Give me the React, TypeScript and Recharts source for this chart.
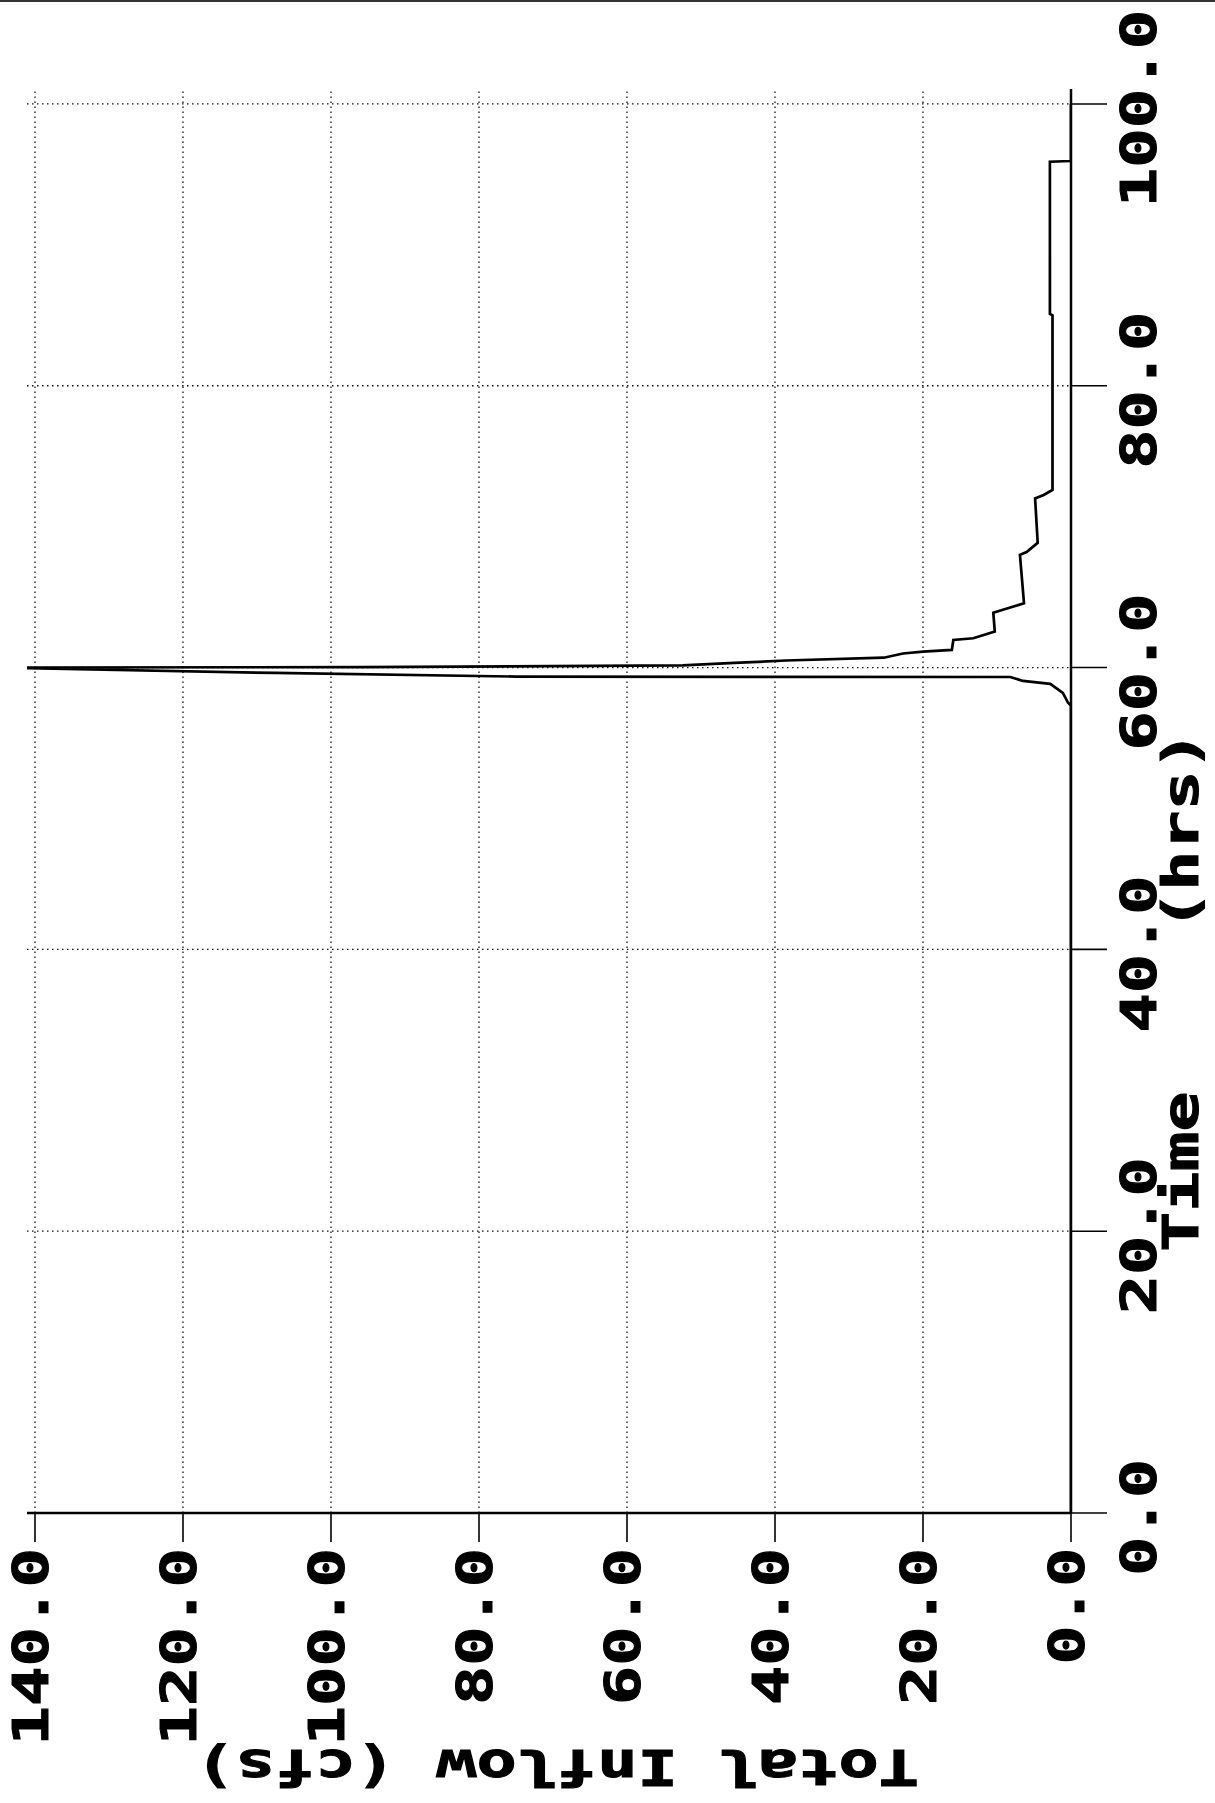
import React from "react";
import { LineChart, Line, XAxis, YAxis, CartesianGrid } from "recharts";

// Hydrograph: time (hrs) vs total inflow (cfs)
const timeHrs = [
  0, 57.3, 57.5, 58.2, 58.84, 59.05, 59.33, 59.36, 59.62, 59.95, 60.0,
  60.03, 60.16, 60.33, 60.5, 60.7, 61.0, 61.13, 61.25, 61.96, 62.08, 62.55,
  63.9, 64.56, 68.0, 68.2, 68.85, 72.0, 72.25, 72.6, 85.0, 85.1, 95.9, 95.95, 100.0,
];
const inflowCfs = [
  0, 0, 0.4, 1.1, 2.8, 6.5, 8.2, 75, 107.6, 141, 150,
  96, 52.5, 45.5, 38.5, 25.3, 22.7, 20, 16.1, 15.9, 13.2, 10.3,
  10.5, 6.35, 6.9, 6.0, 4.5, 4.85, 3.7, 2.5, 2.5, 2.85, 2.85, 0, 0,
];

const timeTicks = [0, 20, 40, 60, 80, 100];
const inflowTicks = [0, 20, 40, 60, 80, 100, 120, 140];
const timeTitle = "Time    (hrs)";
const inflowTitle = "Total Inflow (cfs)";

const data = timeHrs.map((t, i) => ({ t, q: inflowCfs[i] }));

const FONT = '"DejaVu Sans Mono", "Liberation Mono", monospace';
const FS = 49;
const ADV = 40.5;
const textLen = (s: string) => ADV * s.length - 5;

const txtStyle: React.CSSProperties = { whiteSpace: "pre" };

const TimeTick = (props: any) => {
  const { x, y, payload } = props;
  const s = Number(payload.value).toFixed(1);
  const L = textLen(s);
  return (
    <text
      x={x - 4.5 - L / 2}
      y={y + 49}
      textLength={L}
      lengthAdjust="spacingAndGlyphs"
      fontFamily={FONT}
      fontSize={FS}
      fontWeight="bold"
      fill="#000"
      stroke="#000"
      strokeWidth={1}
    >
      {s}
    </text>
  );
};

const InflowTick = (props: any) => {
  const { x, y, payload } = props;
  const s = Number(payload.value).toFixed(1);
  const L = textLen(s);
  return (
    <text
      x={x - 6 - L}
      y={y + 13}
      textLength={L}
      lengthAdjust="spacingAndGlyphs"
      fontFamily={FONT}
      fontSize={FS}
      fontWeight="bold"
      fill="#000"
      stroke="#000"
      strokeWidth={1}
    >
      {s}
    </text>
  );
};

const TimeTitle = () => {
  const L = textLen(timeTitle);
  return (
    <text
      x={812 - L / 2}
      y={1198}
      textLength={L}
      lengthAdjust="spacingAndGlyphs"
      fontFamily={FONT}
      fontSize={FS}
      fontWeight="bold"
      fill="#000"
      stroke="#000"
      strokeWidth={1}
      style={txtStyle}
      xmlSpace="preserve"
    >
      {timeTitle}
    </text>
  );
};

const InflowTitle = () => {
  const L = textLen(inflowTitle);
  const cx = 53;
  const cy = 557;
  return (
    <text
      x={cx - L / 2}
      y={cy}
      transform={`rotate(-90, ${cx}, ${cy})`}
      textLength={L}
      lengthAdjust="spacingAndGlyphs"
      fontFamily={FONT}
      fontSize={FS}
      fontWeight="bold"
      fill="#000"
      stroke="#000"
      strokeWidth={1}
      style={txtStyle}
      xmlSpace="preserve"
    >
      {inflowTitle}
    </text>
  );
};

export default function App() {
  return (
    <div
      style={{
        position: "absolute",
        left: 0,
        top: 0,
        width: 1215,
        height: 1803,
        overflow: "hidden",
        background: "#fff",
      }}
    >
      <div
        style={{
          position: "absolute",
          left: 0,
          top: 0,
          width: 1215,
          height: 2,
          background: "#333",
          zIndex: 2,
        }}
      />
      <div
        style={{
          position: "absolute",
          left: 0,
          top: 0,
          width: 1803,
          height: 1215,
          transformOrigin: "0 0",
          transform: "translateY(1803px) rotate(-90deg)",
        }}
      >
        <LineChart
          width={1803}
          height={1215}
          data={data}
          margin={{ top: 27, right: 89, bottom: 0, left: 0 }}
        >
          <CartesianGrid
            stroke="#111"
            strokeWidth={1.3}
            strokeDasharray="1.5 3.5"
            horizontalValues={inflowTicks}
            verticalValues={timeTicks}
          />
          <XAxis
            dataKey="t"
            type="number"
            domain={[0, 101.06]}
            allowDataOverflow
            ticks={timeTicks}
            interval={0}
            height={144}
            tickSize={36}
            tickMargin={0}
            axisLine={{ stroke: "#000", strokeWidth: 2.5 }}
            tickLine={{ stroke: "#000", strokeWidth: 1.6 }}
            tick={<TimeTick />}
            label={{ content: () => <TimeTitle /> }}
          />
          <YAxis
            dataKey="q"
            type="number"
            domain={[0, 141.08]}
            allowDataOverflow
            ticks={inflowTicks}
            interval={0}
            width={290}
            tickSize={29}
            tickMargin={0}
            axisLine={{ stroke: "#000", strokeWidth: 2.5 }}
            tickLine={{ stroke: "#000", strokeWidth: 1.6 }}
            tick={<InflowTick />}
            label={{ content: () => <InflowTitle /> }}
          />
          <Line
            type="linear"
            dataKey="q"
            stroke="#000"
            strokeWidth={2.7}
            dot={false}
            activeDot={false}
            isAnimationActive={false}
          />
        </LineChart>
      </div>
    </div>
  );
}
